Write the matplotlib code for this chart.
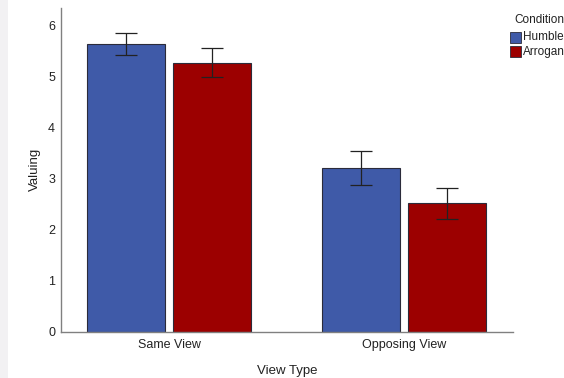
import matplotlib
matplotlib.use("Agg")
import matplotlib.pyplot as plt
from matplotlib.patches import Rectangle
import numpy as np

plt.rcParams['font.family'] = ['Liberation Sans', 'DejaVu Sans']

view_types = ["Same View", "Opposing View"]
conditions = ["Humble", "Arrogant"]
humble_mean = [5.64, 3.22]
humble_err_low = [5.42, 2.88]
humble_err_high = [5.87, 3.55]
arrogant_mean = [5.28, 2.53]
arrogant_err_low = [4.99, 2.22]
arrogant_err_high = [5.57, 2.82]
y_ticks = [0, 1, 2, 3, 4, 5, 6]

colors = ["#3f5aa8", "#9c0000"]

fig = plt.figure(figsize=(5.64, 3.78), dpi=100)
fig.patches.append(Rectangle((0, 0), 8 / 564, 1, transform=fig.transFigure,
                             facecolor="#f2f1f3", edgecolor="none", zorder=0))

ax = fig.add_axes([60.7 / 564, 46 / 378, (513 - 60.7) / 564, (332 - 7.5) / 378])

x = np.arange(len(view_types))
width = 0.332
offset = 0.183

series = [
    (humble_mean, humble_err_low, humble_err_high),
    (arrogant_mean, arrogant_err_low, arrogant_err_high),
]
for i, (mean, lo, hi) in enumerate(series):
    pos = x + (-offset if i == 0 else offset)
    mean = np.array(mean)
    yerr = np.vstack([mean - np.array(lo), np.array(hi) - mean])
    ax.bar(pos, mean, width=width, color=colors[i], edgecolor="#2b2b3a",
           linewidth=0.8, zorder=2)
    ax.errorbar(pos, mean, yerr=yerr, fmt="none", ecolor="#222222",
                elinewidth=0.9, capsize=8, capthick=0.9, zorder=3)

ax.set_xlim(-0.461, 1.464)
ax.set_ylim(0, 6.36)
ax.set_yticks(y_ticks)
ax.set_xticks(x)
ax.set_xticklabels(view_types)
ax.tick_params(axis="both", length=0, labelsize=9, colors="#222222")
ax.tick_params(axis="y", pad=4)
ax.tick_params(axis="x", pad=5)
for s in ["top", "right"]:
    ax.spines[s].set_visible(False)
for s in ["left", "bottom"]:
    ax.spines[s].set_color("#808080")
    ax.spines[s].set_linewidth(1.0)

ax.set_ylabel("Valuing", fontsize=9.5, color="#222222")
ax.yaxis.set_label_coords(-(60.7 - 41) / (513 - 60.7), 0.5)
ax.set_xlabel("View Type", fontsize=9.5, color="#222222", labelpad=10)

# Legend drawn at the right edge of the figure
fig.text(514 / 564, 1 - 20 / 378, "Condition", fontsize=8.5, color="#222222",
         ha="left", va="center")
for j, name in enumerate(conditions):
    ytop = 32 + j * 14
    fig.patches.append(Rectangle((510 / 564, 1 - (ytop + 11) / 378), 11 / 564, 11 / 378,
                                 transform=fig.transFigure, facecolor=colors[j],
                                 edgecolor="#2b2b3a", linewidth=0.6))
    fig.text(523 / 564, 1 - (ytop + 5.5) / 378, name, fontsize=8.5, color="#222222",
             ha="left", va="center")

fig.savefig("out.png", dpi=100)
